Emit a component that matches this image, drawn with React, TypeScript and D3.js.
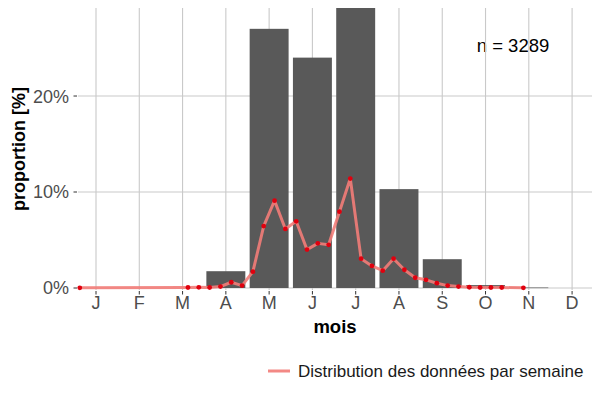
import React from "react"
import * as d3 from "d3"

// monthly share of observations (%)
const months = ["J", "F", "M", "A", "M", "J", "J", "A", "S", "O", "N", "D"]
const monthShare = [0, 0, 0, 1.75, 27.0, 24.0, 29.4, 10.3, 3.0, 0.3, 0.05, 0]

// weekly share of observations (%)
const weeks = [1, 11, 12, 13, 14, 15, 16, 17, 18, 19, 20, 21, 22, 23, 24, 25, 26, 27, 28, 29, 30, 31, 32, 33, 34, 35, 36, 37, 38, 39, 40, 42]
const weekShare = [0.02, 0.05, 0.07, 0.05, 0.15, 0.6, 0.25, 1.7, 6.45, 9.1, 6.15, 6.95, 4.0, 4.65, 4.5, 7.95, 11.4, 3.05, 2.3, 1.8, 3.05, 1.9, 1.07, 0.85, 0.5, 0.25, 0.15, 0.08, 0.05, 0.05, 0.05, 0.02]

const yTicks = [0, 10, 20]
const nLabel = "n = 3289"
const legendLabel = "Distribution des données par semaine"

const W = 600
const H = 400
const PANEL = { left: 78, right: 592, top: 8, bottom: 290 }
const FONT = "'Liberation Sans', Arial, sans-serif"
const GRID = "#c9c9c9"
const LINE = "#f27c78"
const DOT = "#e0000e"

// week index -> position on the month axis
const weekPos = (w: number) => w / 4 + 0.375

export default function App() {
  const x = d3.scaleLinear().domain([0.584, 12.46]).range([PANEL.left, PANEL.right])
  const y = d3.scaleLinear().domain([0, 29.17]).range([288, PANEL.top])
  const barW = x(1.9) - x(1)

  const pts = weeks.map((w, i) => [x(weekPos(w)), y(weekShare[i])] as [number, number])
  const line = d3.line()(pts) ?? ""

  return (
    <svg width={W} height={H} style={{ position: "absolute", left: 0, top: 0, background: "#fff" }} fontFamily={FONT}>
      <defs>
        <clipPath id="panel">
          <rect x={PANEL.left} y={PANEL.top} width={PANEL.right - PANEL.left} height={PANEL.bottom - PANEL.top} />
        </clipPath>
      </defs>

      <text x={513} y={52} fontSize={18.5} textAnchor="middle" fill="#000">{nLabel}</text>

      {/* grid */}
      {yTicks.map((t) => (
        <line key={"h" + t} x1={PANEL.left} x2={PANEL.right} y1={y(t)} y2={y(t)} stroke={GRID} strokeWidth={1.1} />
      ))}
      {months.map((m, i) => (
        <line key={"v" + i} x1={x(i + 1)} x2={x(i + 1)} y1={PANEL.top} y2={PANEL.bottom} stroke={GRID} strokeWidth={1.1} />
      ))}

      {/* monthly bars */}
      <g clipPath="url(#panel)">
        {monthShare.map((v, i) =>
          v > 0 ? (
            <rect key={i} x={x(i + 1) - barW / 2} width={barW} y={y(v)} height={Math.max(y(0) - y(v), 0.6)} fill="#595959" />
          ) : null
        )}
      </g>

      {/* weekly line */}
      <path d={line} fill="none" stroke={LINE} strokeWidth={3} strokeOpacity={0.9} strokeLinejoin="round" />
      {pts.map((p, i) => (
        <circle key={i} cx={p[0]} cy={p[1]} r={2.4} fill={DOT} />
      ))}

      {/* y axis */}
      {yTicks.map((t) => (
        <g key={"yt" + t}>
          <line x1={PANEL.left - 4.5} x2={PANEL.left - 1} y1={y(t)} y2={y(t)} stroke="#333" strokeWidth={1} />
          <text x={PANEL.left - 9} y={y(t)} dy="0.36em" textAnchor="end" fontSize={18} fill="#4d4d4d">{t}%</text>
        </g>
      ))}
      <text transform={`translate(25,${(PANEL.top + PANEL.bottom) / 2}) rotate(-90)`} textAnchor="middle" fontSize={18} fontWeight="bold" fill="#000">
        proportion [%]
      </text>

      {/* x axis */}
      {months.map((m, i) => (
        <g key={"xt" + i}>
          <line x1={x(i + 1)} x2={x(i + 1)} y1={PANEL.bottom + 1} y2={PANEL.bottom + 4.5} stroke="#333" strokeWidth={1} />
          <text x={x(i + 1)} y={309} textAnchor="middle" fontSize={18} fill="#4d4d4d">{m}</text>
        </g>
      ))}
      <text x={(PANEL.left + PANEL.right) / 2} y={333} textAnchor="middle" fontSize={18.5} fontWeight="bold" fill="#000">mois</text>

      {/* legend */}
      <line x1={268} x2={290} y1={371} y2={371} stroke={LINE} strokeWidth={3} strokeOpacity={0.9} />
      <text x={298} y={377} fontSize={17} fill="#1a1a1a">{legendLabel}</text>
    </svg>
  )
}
